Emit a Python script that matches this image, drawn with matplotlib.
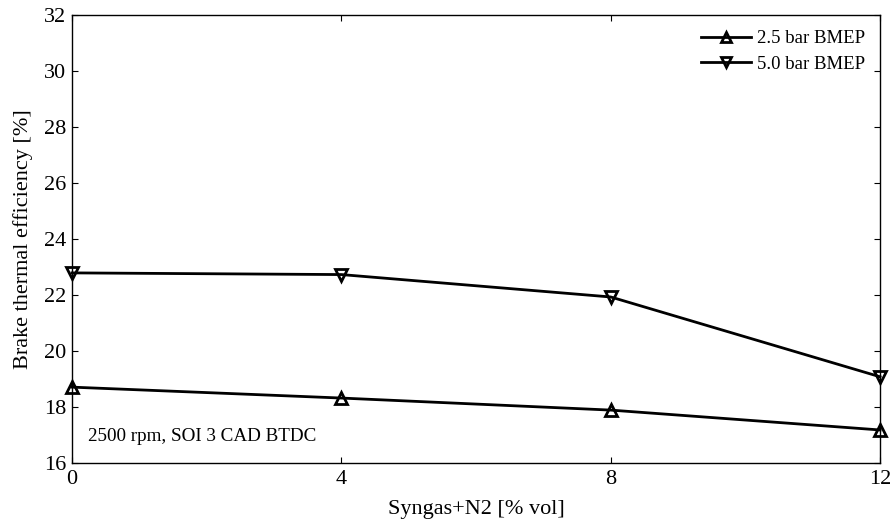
import matplotlib
matplotlib.use('Agg')
import matplotlib.pyplot as plt

# ── Data ─────────────────────────────────────────────────────────────────────
syngas = [0, 4, 8, 12]
bte_25 = [18.71, 18.32, 17.89, 17.18]
bte_50 = [22.79, 22.73, 21.93, 19.08]
labels = ['2.5 bar BMEP', '5.0 bar BMEP']
xticks = [0, 4, 8, 12]
yticks = [16, 18, 20, 22, 24, 26, 28, 30, 32]

plt.rcParams['font.family'] = ['Liberation Serif', 'DejaVu Serif']

fig = plt.figure(figsize=(8.9, 5.21), dpi=100)
ax = fig.add_axes([0.0809, 0.1113, 0.9079, 0.8599])

ax.plot(syngas, bte_25, color='black', lw=2, marker='^', ms=9,
        mfc='none', mew=2, label=labels[0])
ax.plot(syngas, bte_50, color='black', lw=2, marker='v', ms=9,
        mfc='none', mew=2, label=labels[1])

ax.set_xlim(0, 12)
ax.set_ylim(16, 32)
ax.set_xticks(xticks)
ax.set_yticks(yticks)
ax.tick_params(direction='in', top=True, right=True, labelsize=16, length=4)
ax.tick_params(axis='x', pad=5)
ax.tick_params(axis='y', pad=4)
for s in ax.spines.values():
    s.set_linewidth(1.0)

ax.set_xlabel('Syngas+N2 [% vol]', fontsize=16, labelpad=8)
ax.set_ylabel('Brake thermal efficiency [%]', fontsize=16, labelpad=8)

ax.text(0.02, 0.04, '2500 rpm, SOI 3 CAD BTDC', transform=ax.transAxes,
        fontsize=13.8, va='bottom', ha='left')

ax.legend(loc='upper right', frameon=False, fontsize=13.5, handlelength=2.7,
          handletextpad=0.3, borderaxespad=0.4, labelspacing=0.45,
          markerscale=0.85)

for line in ax.get_lines():
    line.set_clip_on(False)

fig.savefig('out.png', dpi=100)
